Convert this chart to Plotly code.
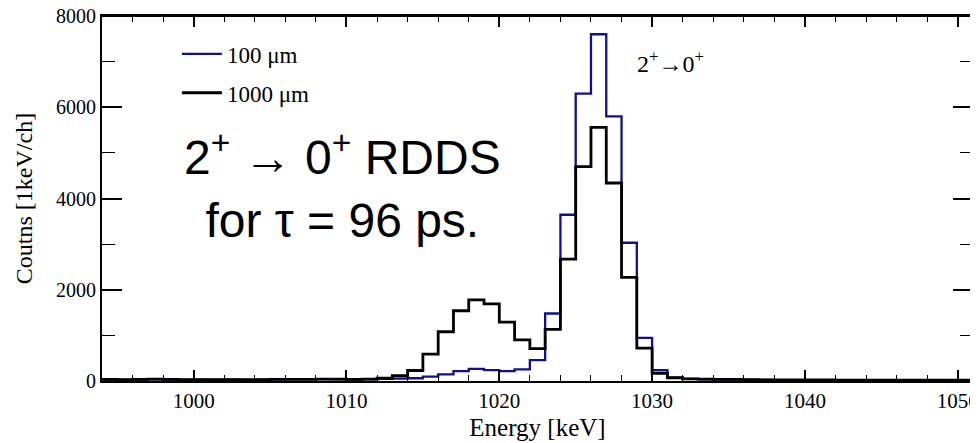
import plotly.graph_objects as go

# Bin lower edges (1 keV bins)
bin_lo = list(range(994, 1051))

counts_100um = [30, 25, 30, 35, 30, 25, 30, 25, 30, 25, 30, 35, 40, 40, 40, 35, 30, 35,
                45, 50, 60, 95, 146, 215, 265, 240, 218, 255, 459, 1480, 3644, 6300, 7600,
                5800, 3030, 946, 240, 80, 45,
                35, 30, 30, 25, 25, 20, 20, 20, 20, 20, 20, 20, 15, 15, 15, 15, 15, 15]

counts_1000um = [35, 30, 35, 40, 35, 30, 30, 30, 30, 30, 30, 35, 35, 35, 40, 40, 35, 40,
                 60, 115, 230, 590, 1080, 1540, 1780, 1690, 1290, 900, 710, 1130, 2670, 4700, 5560,
                 4340, 2270, 720, 170, 70, 45,
                 40, 35, 35, 30, 25, 25, 25, 25, 25, 20, 20, 20, 20, 20, 20, 20, 20, 20]

series_names = ["100 \u03bcm", "1000 \u03bcm"]
series_colors = ["#10108f", "#000000"]

BIN_W = 1


def step(lo, vals):
    xs = list(lo) + [lo[-1] + BIN_W]
    ys = list(vals) + [vals[-1]]
    return xs, ys


fig = go.Figure()
for i, (name, vals, col, w) in enumerate([(series_names[0], counts_100um, series_colors[0], 2.3),
                                          (series_names[1], counts_1000um, series_colors[1], 2.8)]):
    xs, ys = step(bin_lo, vals)
    fig.add_trace(go.Scatter(x=xs, y=ys, mode="lines", name=name, legendgroup=f"g{i}",
                             line=dict(color=col, width=w, shape="hv")))

serif = "Liberation Serif"

fig.update_layout(
    width=978, height=443,
    margin=dict(l=94, r=13, t=8, b=70, autoexpand=False),
    paper_bgcolor="white", plot_bgcolor="white",
    font=dict(family=serif, size=20, color="black"),
    showlegend=True,
    legend=dict(x=0.086, y=0.955, xanchor="left", yanchor="top",
                font=dict(family=serif, size=23), bgcolor="rgba(0,0,0,0)",
                traceorder="grouped", tracegroupgap=6, itemwidth=40),
    xaxis=dict(range=[994, 1051], tickmode="array", tickvals=[1000, 1010, 1020, 1030, 1040, 1050],
               ticks="inside", ticklen=11, tickwidth=1.5, tickcolor="black",
               minor=dict(dtick=2, tick0=0, ticks="inside", ticklen=6, tickwidth=1.2, tickcolor="black"),
               showline=True, linecolor="black", linewidth=2, mirror="allticks",
               showgrid=False, zeroline=False, automargin=False, ticklabeloverflow="allow",
               tickfont=dict(family=serif, size=21),
               title=dict(text="Energy [keV]", font=dict(family=serif, size=25), standoff=6)),
    yaxis=dict(range=[0, 8000], tickmode="array", tickvals=[0, 2000, 4000, 6000, 8000],
               ticks="inside", ticklen=20, tickwidth=1.5, tickcolor="black",
               minor=dict(dtick=1000, ticks="inside", ticklen=13, tickwidth=1.2, tickcolor="black"),
               showline=True, linecolor="black", linewidth=2, mirror="allticks",
               showgrid=False, zeroline=False, automargin=False, ticklabeloverflow="allow",
               tickfont=dict(family=serif, size=20),
               title=dict(text="Coutns [1keV/ch]", font=dict(family=serif, size=24), standoff=17)),
)

# plot frame (top edge)
fig.add_shape(type="line", xref="paper", yref="paper", x0=0, x1=1, y0=1, y1=1,
              line=dict(color="black", width=2), layer="above")

fig.add_annotation(x=1028.9, y=7000, xref="x", yref="y", xanchor="left", yanchor="middle",
                   text="2<sup>+</sup>\u21920<sup>+</sup>", showarrow=False,
                   font=dict(family=serif, size=24, color="black"))

fig.add_annotation(x=0.276, y=0.535, xref="paper", yref="paper", xanchor="center", yanchor="middle",
                   text="2<sup>+</sup> \u2192 0<sup>+</sup> RDDS<br>for \u03c4 = 96 ps.", showarrow=False,
                   font=dict(family="Liberation Sans", size=48, color="black"))

fig.write_html("out.html")
